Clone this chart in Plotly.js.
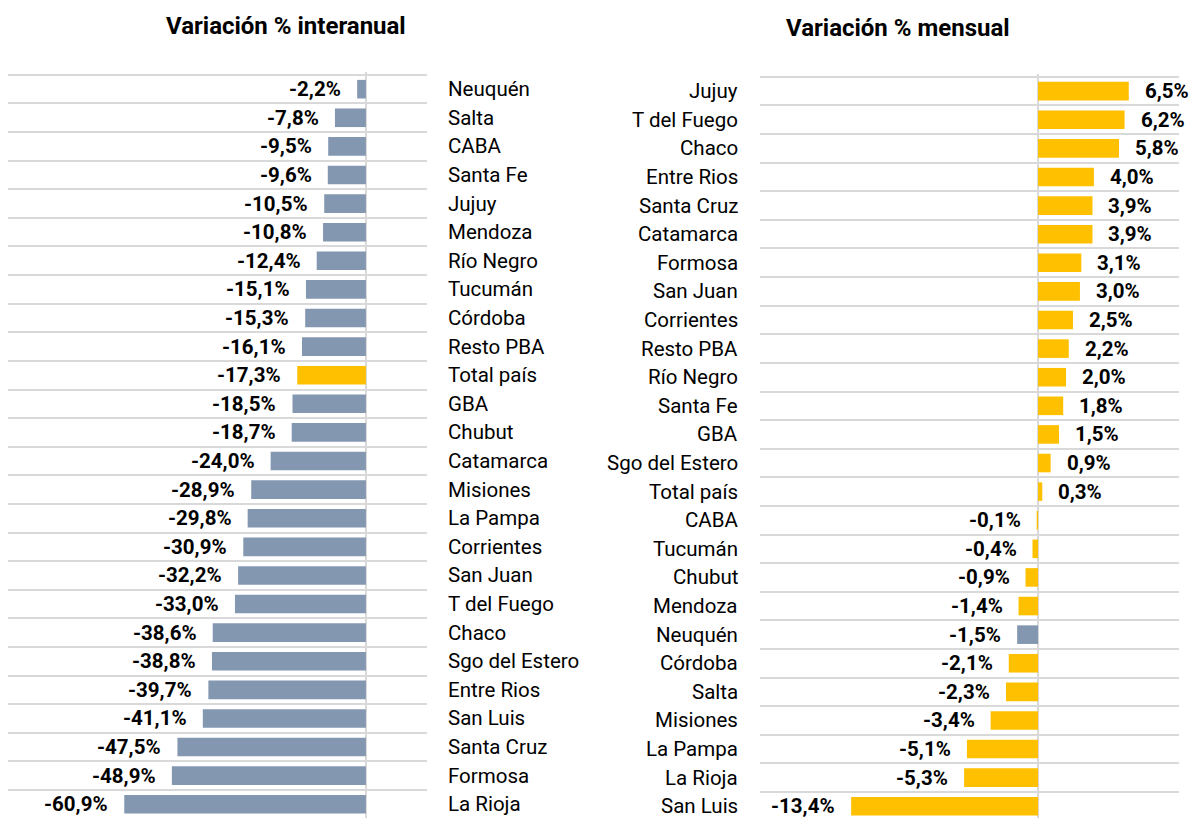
<!DOCTYPE html>
<html>
<head>
<meta charset="utf-8">
<script src="https://cdn.plot.ly/plotly-3.0.1.min.js"></script>
<style>html,body{margin:0;padding:0;background:#fff;}</style>
</head>
<body>
<div id="chart" style="width:1198px;height:818px;"></div>
<script>
const leftTitle = 'Variación % interanual';
const rightTitle = 'Variación % mensual';
const leftCats = ['Neuquén','Salta','CABA','Santa Fe','Jujuy','Mendoza','Río Negro','Tucumán','Córdoba','Resto PBA','Total país','GBA','Chubut','Catamarca','Misiones','La Pampa','Corrientes','San Juan','T del Fuego','Chaco','Sgo del Estero','Entre Rios','San Luis','Santa Cruz','Formosa','La Rioja'];
const leftVals = [-2.2,-7.8,-9.5,-9.6,-10.5,-10.8,-12.4,-15.1,-15.3,-16.1,-17.3,-18.5,-18.7,-24.0,-28.9,-29.8,-30.9,-32.2,-33.0,-38.6,-38.8,-39.7,-41.1,-47.5,-48.9,-60.9];
const rightCats = ['Jujuy','T del Fuego','Chaco','Entre Rios','Santa Cruz','Catamarca','Formosa','San Juan','Corrientes','Resto PBA','Río Negro','Santa Fe','GBA','Sgo del Estero','Total país','CABA','Tucumán','Chubut','Mendoza','Neuquén','Córdoba','Salta','Misiones','La Pampa','La Rioja','San Luis'];
const rightVals = [6.5,6.2,5.8,4.0,3.9,3.9,3.1,3.0,2.5,2.2,2.0,1.8,1.5,0.9,0.3,-0.1,-0.4,-0.9,-1.4,-1.5,-2.1,-2.3,-3.4,-5.1,-5.3,-13.4];
const leftHighlight = 'Total país';
const rightHighlight = 'Neuquén';

const GRAY = '#8497b0';
const YELLOW = '#ffc000';
const FONT = 'Roboto, "Liberation Sans", sans-serif';
const fmt = v => v.toFixed(1).replace('.', ',') + '%';

const leftIdx = leftCats.map((_, i) => i);
const rightIdx = rightCats.map((_, i) => i);

const traces = [
  {
    type: 'bar', orientation: 'h', x: leftVals, y: leftIdx,
    xaxis: 'x', yaxis: 'y', width: 0.65,
    marker: {color: leftCats.map(c => c === leftHighlight ? YELLOW : GRAY)},
    hoverinfo: 'skip'
  },
  {
    type: 'bar', orientation: 'h', x: rightVals, y: rightIdx,
    xaxis: 'x2', yaxis: 'y2', width: 0.65,
    marker: {color: rightCats.map(c => c === rightHighlight ? GRAY : YELLOW)},
    hoverinfo: 'skip'
  }
];

const annotations = [];
leftVals.forEach((v, i) => {
  annotations.push({xref: 'x', yref: 'y', x: v, y: i, text: '<b>' + fmt(v) + '</b>',
    xanchor: 'right', yanchor: 'middle', xshift: -14, showarrow: false,
    font: {family: FONT, size: 20.5, color: '#000'}});
  annotations.push({xref: 'paper', yref: 'y', x: 446/1198, y: i, text: leftCats[i],
    xanchor: 'left', yanchor: 'middle', showarrow: false,
    font: {family: FONT, size: 20.5, color: '#000'}});
});
rightVals.forEach((v, i) => {
  annotations.push({xref: 'x2', yref: 'y2', x: v, y: i, text: '<b>' + fmt(v) + '</b>',
    xanchor: v >= 0 ? 'left' : 'right', yanchor: 'middle', xshift: v >= 0 ? 14 : -14, showarrow: false,
    font: {family: FONT, size: 20.5, color: '#000'}});
  annotations.push({xref: 'paper', yref: 'y2', x: 740/1198, y: i, text: rightCats[i],
    xanchor: 'right', yanchor: 'middle', showarrow: false,
    font: {family: FONT, size: 20.5, color: '#000'}});
});
annotations.push({xref: 'paper', yref: 'paper', x: 286/1198, y: 1 - 26/818, text: '<b>' + leftTitle + '</b>',
  xanchor: 'center', yanchor: 'middle', showarrow: false, font: {family: FONT, size: 24, color: '#000'}});
annotations.push({xref: 'paper', yref: 'paper', x: 898/1198, y: 1 - 28/818, text: '<b>' + rightTitle + '</b>',
  xanchor: 'center', yanchor: 'middle', showarrow: false, font: {family: FONT, size: 24, color: '#000'}});

const yCommon = {
  showticklabels: false, ticks: '',
  tick0: -0.5, dtick: 1, showgrid: true, gridcolor: '#d9d9d9', gridwidth: 2,
  zeroline: false, showline: false, fixedrange: true
};
const xCommon = {
  showticklabels: false, ticks: '', showgrid: false,
  zeroline: true, zerolinecolor: '#d9d9d9', zerolinewidth: 2, showline: false, fixedrange: true
};

const layout = {
  width: 1198, height: 818,
  margin: {l: 0, r: 0, t: 0, b: 0},
  paper_bgcolor: '#fff', plot_bgcolor: '#fff',
  showlegend: false,
  xaxis: Object.assign({}, xCommon, {domain: [8/1198, 427/1198], range: [-90.2, 15.4], anchor: 'y'}),
  yaxis: Object.assign({}, yCommon, {domain: [0, 1 - 72/818], range: [25.48, -0.6], anchor: 'x'}),
  xaxis2: Object.assign({}, xCommon, {domain: [760/1198, 1179/1198], range: [-19.93, 10.1], anchor: 'y2'}),
  yaxis2: Object.assign({}, yCommon, {domain: [0, 1 - 74/818], range: [25.41, -0.6], anchor: 'x2'}),
  annotations: annotations
};

Plotly.newPlot('chart', traces, layout, {displayModeBar: false, staticPlot: true});
</script>
</body>
</html>
